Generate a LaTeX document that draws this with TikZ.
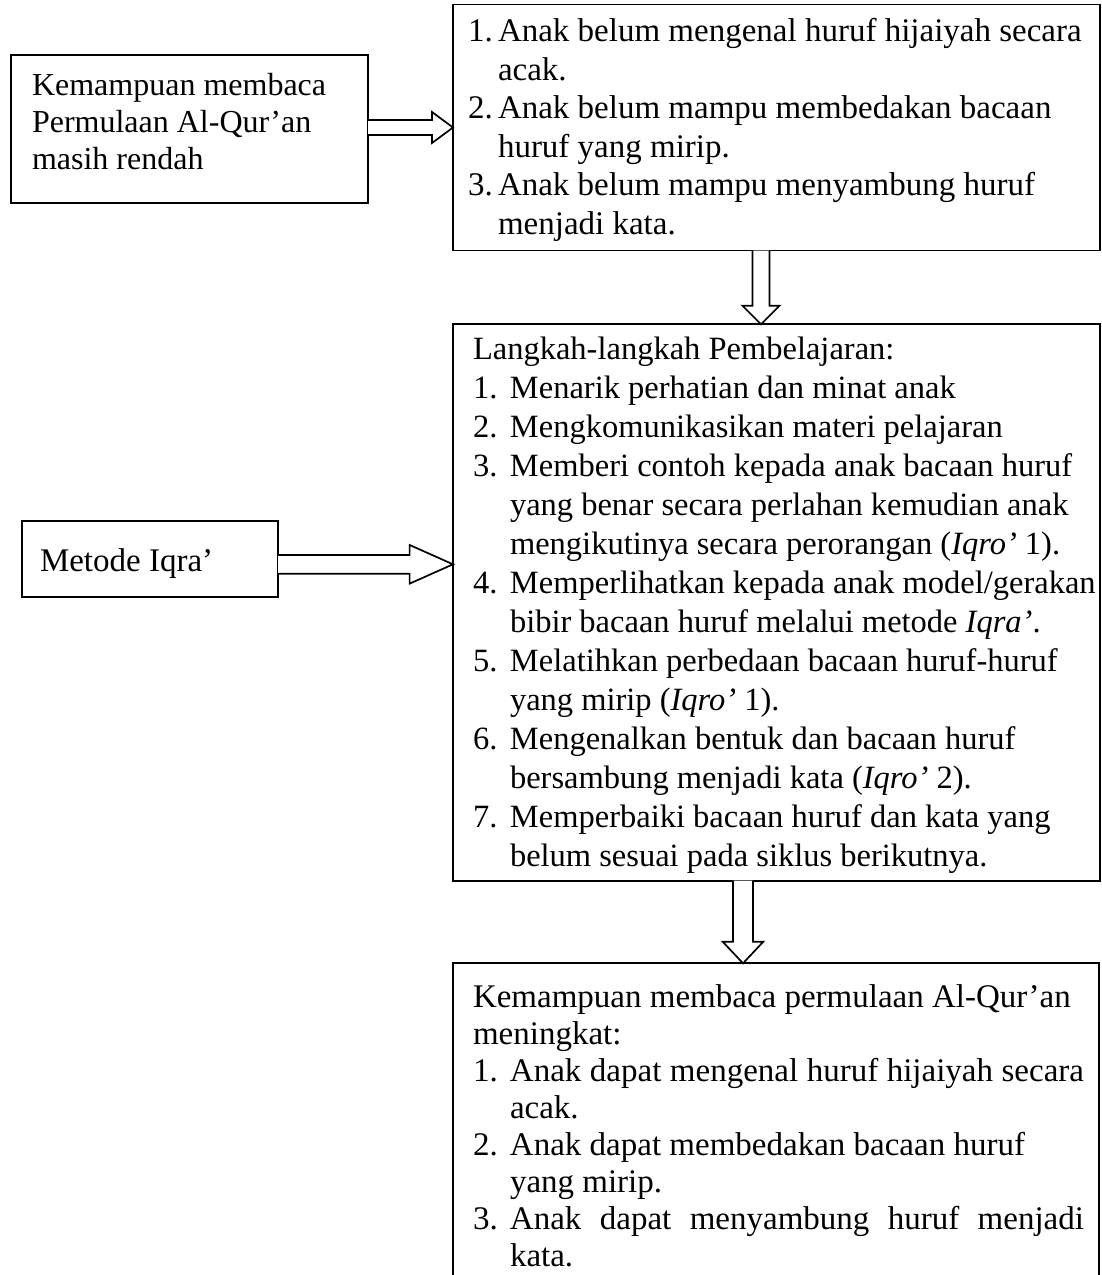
\documentclass[tikz,border=0pt]{standalone}
\usepackage{fontspec}
\setmainfont{Liberation Serif}
\usetikzlibrary{calc}
\newcommand\numB[1]{\makebox[30pt][l]{#1}}
\newcommand\numC[1]{\makebox[37pt][l]{#1}}
\newcommand\indB{\hspace*{30pt}}
\newcommand\indC{\hspace*{37pt}}
\begin{document}
\begin{tikzpicture}[x=1pt,y=-1pt,
  box/.style={draw, line width=1.7pt, rectangle, inner sep=0pt, outer sep=0pt, anchor=north west},
  txt/.style={anchor=base west, inner sep=0pt, outer sep=0pt, align=left, font=\fontsize{33}{38.5}\selectfont},
  txtA/.style={txt, font=\fontsize{32}{36.7}\selectfont},
  txtC/.style={txt, font=\fontsize{32.5}{39}\selectfont},
  txtD/.style={txt, font=\fontsize{33}{37}\selectfont},
  blockarrow/.style={draw, line width=1.7pt, fill=white, line join=miter}]
\useasboundingbox (0,0) rectangle (1102,1275);
\clip (0,0) rectangle (1102,1275);
% boxes
\node[box, minimum width=357pt, minimum height=148pt] (A) at (11,55) {};
\node[box, minimum width=647pt, minimum height=246pt] (B) at (453,4.5) {};
\node[box, minimum width=647pt, minimum height=556.4pt] (C) at (453,324.3) {};
\node[box, minimum width=646pt, minimum height=340pt] (D) at (453,963.3) {};
\node[box, minimum width=256pt, minimum height=76pt] (E) at (22,521) {};
% texts (base anchor = baseline of the last line)
\node[txtA] (Atext) at (32,169) {Kemampuan membaca\\Permulaan Al-Qur’an\\masih rendah};
\node[txt] (Btext) at (468,234) {\numB{1.}Anak belum mengenal huruf hijaiyah secara\\
\indB acak.\\
\numB{2.}Anak belum mampu membedakan bacaan\\
\indB huruf yang mirip.\\
\numB{3.}Anak belum mampu menyambung huruf\\
\indB menjadi kata.};
\node[txtC] (Ctext) at (473,866) {Langkah-langkah Pembelajaran:\\
\numC{1.}Menarik perhatian dan minat anak\\
\numC{2.}Mengkomunikasikan materi pelajaran\\
\numC{3.}Memberi contoh kepada anak bacaan huruf\\
\indC yang benar secara perlahan kemudian anak\\
\indC mengikutinya secara perorangan (\textit{Iqro’} 1).\\
\numC{4.}Memperlihatkan kepada anak model/gerakan\\
\indC bibir bacaan huruf melalui metode \textit{Iqra’}.\\
\numC{5.}Melatihkan perbedaan bacaan huruf-huruf\\
\indC yang mirip (\textit{Iqro’} 1).\\
\numC{6.}Mengenalkan bentuk dan bacaan huruf\\
\indC bersambung menjadi kata (\textit{Iqro’} 2).\\
\numC{7.}Memperbaiki bacaan huruf dan kata yang\\
\indC belum sesuai pada siklus berikutnya.};
\node[txtD] (Dtext) at (473,1266) {Kemampuan membaca permulaan Al-Qur’an\\
meningkat:\\
\numC{1.}\makebox[574pt][s]{Anak dapat mengenal huruf hijaiyah secara}\\
\indC acak.\\
\numC{2.}Anak dapat membedakan bacaan huruf\\
\indC yang mirip.\\
\numC{3.}\makebox[574pt][s]{Anak dapat menyambung huruf menjadi}\\
\indC kata.};
\node[txt] (Etext) at (40,571) {Metode Iqra’};
% arrow A -> B
\coordinate (a1s) at (A.east |- B.west);
\draw[blockarrow] ($(a1s)+(0,-7.5)$) -- ($(B.west)+(-21,-7.5)$) -- ($(B.west)+(-21,-15.5)$) -- (B.west)
  -- ($(B.west)+(-21,15.5)$) -- ($(B.west)+(-21,7.5)$) -- ($(a1s)+(0,7.5)$);
% arrow B -> C
\coordinate (a2s) at ($(B.south)+(-15.5,0)$);
\coordinate (a2t) at (a2s |- C.north);
\draw[blockarrow] ($(a2s)+(-8.5,0)$) -- ($(a2t)+(-8.5,-18.6)$) -- ($(a2t)+(-18.5,-18.6)$) -- (a2t)
  -- ($(a2t)+(18.5,-18.6)$) -- ($(a2t)+(8.5,-18.6)$) -- ($(a2s)+(8.5,0)$);
% arrow C -> D
\coordinate (a3s) at ($(C.south)+(-33.5,0)$);
\coordinate (a3t) at (a3s |- D.north);
\draw[blockarrow] ($(a3s)+(-10,0)$) -- ($(a3t)+(-10,-21.6)$) -- ($(a3t)+(-20.3,-21.6)$) -- (a3t)
  -- ($(a3t)+(20.3,-21.6)$) -- ($(a3t)+(10,-21.6)$) -- ($(a3s)+(10,0)$);
% arrow E -> C
\coordinate (a4s) at ($(E.east)+(0,5.3)$);
\coordinate (a4t) at (a4s -| C.west);
\draw[blockarrow] ($(a4s)+(0,-9.35)$) -- ($(a4t)+(-43.4,-9.35)$) -- ($(a4t)+(-43.4,-19.35)$) -- (a4t)
  -- ($(a4t)+(-43.4,19.35)$) -- ($(a4t)+(-43.4,9.35)$) -- ($(a4s)+(0,9.35)$);
\end{tikzpicture}
\end{document}
